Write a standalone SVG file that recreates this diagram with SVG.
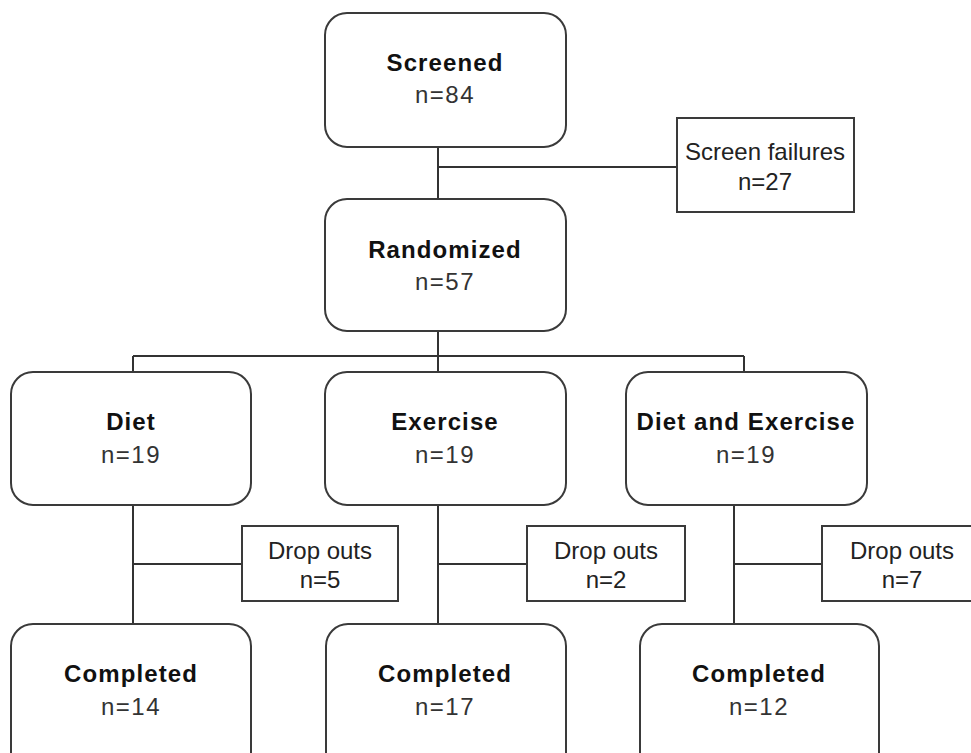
<svg xmlns="http://www.w3.org/2000/svg" width="971" height="753" viewBox="0 0 971 753">
<style>
.rb{fill:#fff;stroke:#3a3a3a;stroke-width:2}
.sb{fill:#fff;stroke:#3a3a3a;stroke-width:2}
.t{font-family:"Liberation Sans",Arial,sans-serif;font-size:24px;font-weight:bold;fill:#111;text-anchor:middle;letter-spacing:1.1px}
.n{font-family:"Liberation Sans",Arial,sans-serif;font-size:24px;fill:#333;text-anchor:middle;letter-spacing:1.5px}
.s{font-family:"Liberation Sans",Arial,sans-serif;font-size:24px;fill:#222;text-anchor:middle}
.c{fill:none;stroke:#333;stroke-width:2}
</style>
<rect width="971" height="753" fill="#fff"/>
<g id="connectors">
<path class="c" d="M438 147V199M438 167H677"/>
<path class="c" d="M438 331V356M133 356H744M133 356V372M438 356V372M744 356V372"/>
<path class="c" d="M133 505V624M133 564H242"/>
<path class="c" d="M438 505V624M438 564H527"/>
<path class="c" d="M734 505V624M734 564H822"/>
</g>
<g id="screened">
<rect class="rb" x="325" y="13" width="241" height="134" rx="22"/>
<text class="t" x="445" y="71">Screened</text>
<text class="n" x="445" y="103">n=84</text>
</g>
<g id="screen-failures">
<rect class="sb" x="677" y="118" width="177" height="94"/>
<text class="s" x="765" y="160">Screen failures</text>
<text class="s" x="765" y="190">n=27</text>
</g>
<g id="randomized">
<rect class="rb" x="325" y="199" width="241" height="132" rx="22"/>
<text class="t" x="445" y="258">Randomized</text>
<text class="n" x="445" y="290">n=57</text>
</g>
<g id="diet">
<rect class="rb" x="11" y="372" width="240" height="133" rx="22"/>
<text class="t" x="131" y="430">Diet</text>
<text class="n" x="131" y="463">n=19</text>
</g>
<g id="exercise">
<rect class="rb" x="325" y="372" width="241" height="133" rx="22"/>
<text class="t" x="445" y="430">Exercise</text>
<text class="n" x="445" y="463">n=19</text>
</g>
<g id="diet-exercise">
<rect class="rb" x="626" y="372" width="241" height="133" rx="22"/>
<text class="t" x="746" y="430">Diet and Exercise</text>
<text class="n" x="746" y="463">n=19</text>
</g>
<g id="dropouts-diet">
<rect class="sb" x="242" y="526" width="156" height="75"/>
<text class="s" x="320" y="559">Drop outs</text>
<text class="s" x="320" y="588">n=5</text>
</g>
<g id="dropouts-exercise">
<rect class="sb" x="527" y="526" width="158" height="75"/>
<text class="s" x="606" y="559">Drop outs</text>
<text class="s" x="606" y="588">n=2</text>
</g>
<g id="dropouts-diet-exercise">
<rect class="sb" x="822" y="526" width="160" height="75"/>
<text class="s" x="902" y="559">Drop outs</text>
<text class="s" x="902" y="588">n=7</text>
</g>
<g id="completed-diet">
<rect class="rb" x="11" y="624" width="240" height="150" rx="22"/>
<text class="t" x="131" y="682">Completed</text>
<text class="n" x="131" y="715">n=14</text>
</g>
<g id="completed-exercise">
<rect class="rb" x="326" y="624" width="240" height="150" rx="22"/>
<text class="t" x="445" y="682">Completed</text>
<text class="n" x="445" y="715">n=17</text>
</g>
<g id="completed-diet-exercise">
<rect class="rb" x="640" y="624" width="239" height="150" rx="22"/>
<text class="t" x="759" y="682">Completed</text>
<text class="n" x="759" y="715">n=12</text>
</g>
</svg>
